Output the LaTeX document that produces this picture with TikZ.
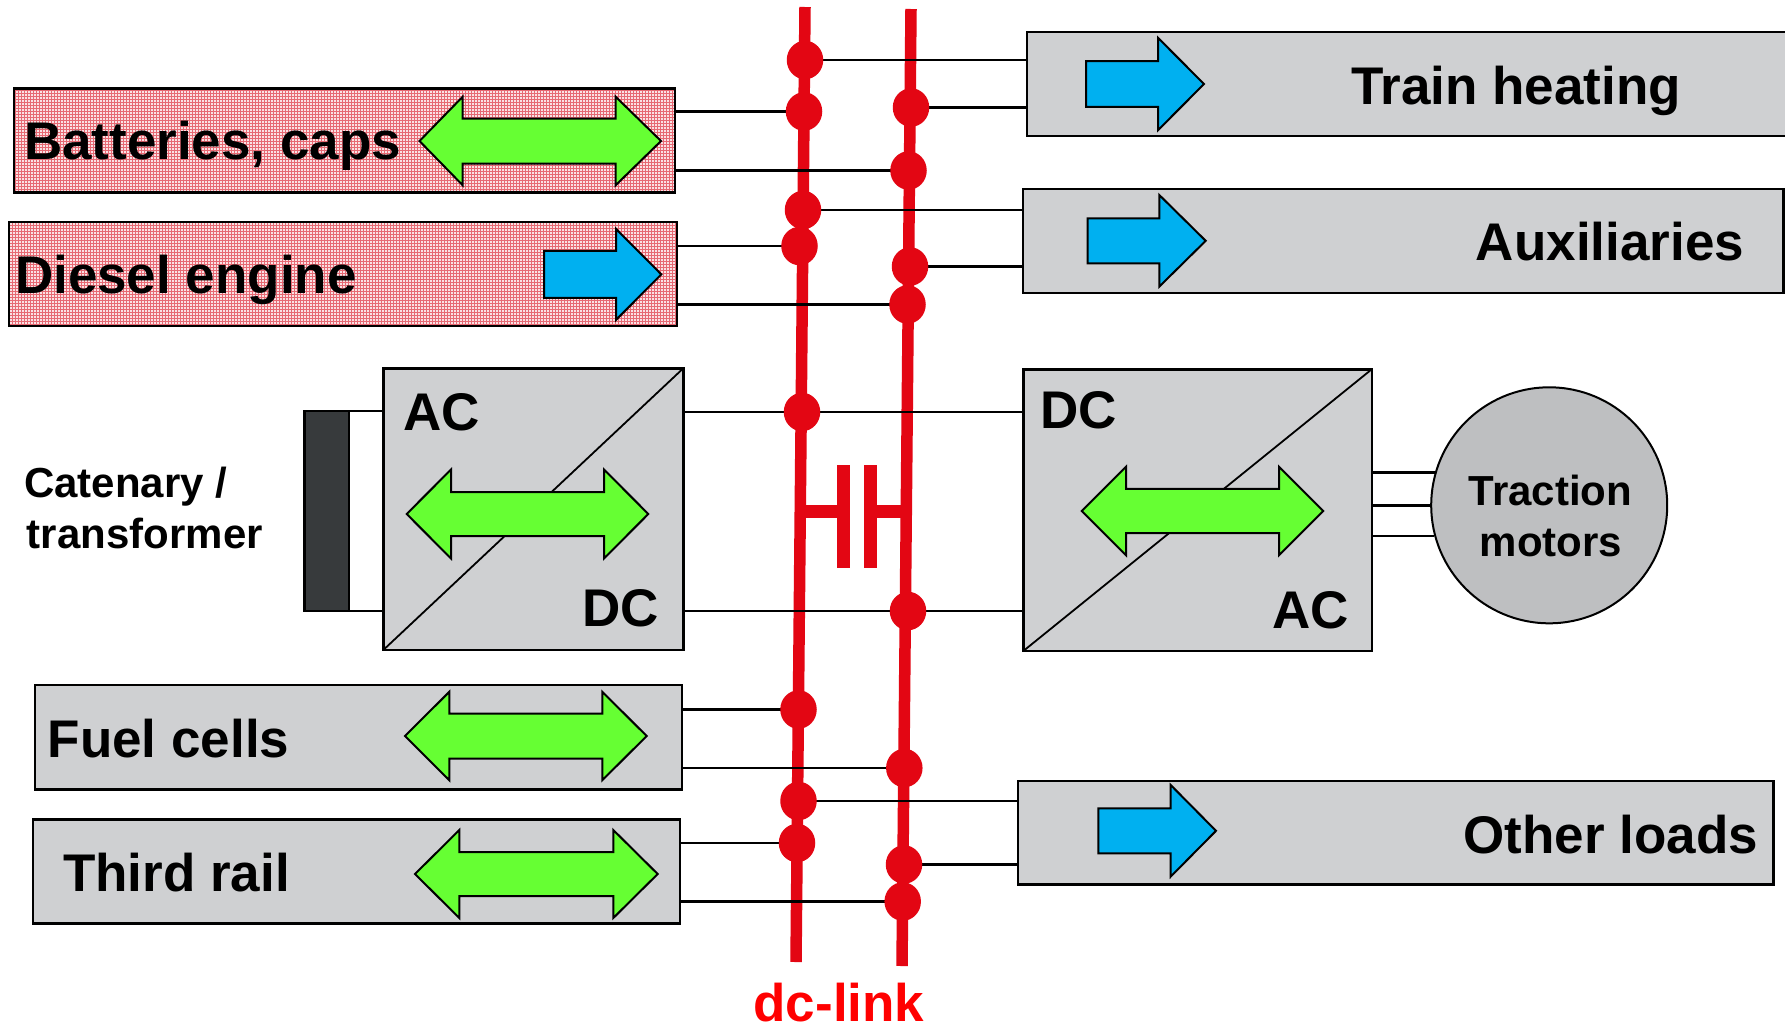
\documentclass[tikz,border=0pt]{standalone}
\usepackage{fontspec}
\setmainfont{Liberation Sans}
\usetikzlibrary{shapes.geometric,patterns}
\definecolor{boxgrey}{RGB}{207,208,210}
\definecolor{motorgrey}{RGB}{190,191,193}
\definecolor{railred}{RGB}{227,6,19}
\definecolor{textred}{RGB}{255,0,0}
\definecolor{arrgreen}{RGB}{102,255,51}
\definecolor{arrblue}{RGB}{0,176,240}
\definecolor{darkslab}{RGB}{55,58,60}
\definecolor{pinkbase}{RGB}{250,225,228}
\definecolor{pinkgrid}{RGB}{230,105,115}
\newcommand{\dblarr}[7]{%
  \draw[garr] (#1,#5) -- (#2,#5-#6) -- (#2,#5-#7) -- (#3,#5-#7) -- (#3,#5-#6) -- (#4,#5)
    -- (#3,#5+#6) -- (#3,#5+#7) -- (#2,#5+#7) -- (#2,#5+#6) -- cycle;}
\newcommand{\sglarr}[6]{%
  \draw[barr] (#1,#4-#6) -- (#2,#4-#6) -- (#2,#4-#5) -- (#3,#4) -- (#2,#4+#5) -- (#2,#4+#6)
    -- (#1,#4+#6) -- cycle;}
\begin{document}
\begin{tikzpicture}[x=1pt,y=-1pt,
  box/.style={draw=black, line width=2.4pt, fill=boxgrey, rectangle, inner sep=0pt, outer sep=0pt, anchor=north west},
  pinkbox/.style={box, fill=pinkbase, postaction={pattern=grid, pattern color=pinkgrid},
    postaction={draw=black, line width=2.4pt}},
  slab/.style={box, fill=darkslab},
  plate/.style={rectangle, fill=railred, inner sep=0pt, minimum width=12.7pt, minimum height=102.7pt},
  dot/.style={ellipse, fill=railred, inner sep=0pt, minimum width=36.5pt, minimum height=38.5pt},
  wire/.style={line width=2.4pt, black},
  rail/.style={line width=11.5pt, railred},
  capwire/.style={line width=12.7pt, railred},
  garr/.style={draw=black, line width=2pt, fill=arrgreen},
  barr/.style={draw=black, line width=2pt, fill=arrblue},
  lbl/.style={font=\fontsize{53}{60}\selectfont\bfseries, inner sep=0pt, outer sep=0pt},
  slbl/.style={font=\fontsize{42}{50}\selectfont\bfseries, inner sep=0pt, outer sep=0pt}]

\fill[white] (0,0) rectangle (1785,1026);
\useasboundingbox (0,0) rectangle (1785,1026);

% dc-link rails
\coordinate (LT) at (805,7);
\coordinate (LB) at (796,962);
\coordinate (RT) at (911,9);
\coordinate (RB) at (902,966);
\draw[rail] (LT) -- (LB);
\draw[rail] (RT) -- (RB);

% capacitor
\coordinate (cL) at (800.2,511.3);
\coordinate (cR) at (906.3,511.3);
\node[plate] (p1) at (843.7,516.7) {};
\node[plate] (p2) at (870.3,516.7) {};
\draw[capwire] (cL) -- (cL -| p1.center);
\draw[capwire] (cR -| p2.center) -- (cR);

% boxes
\node[pinkbox, minimum width=661.3pt, minimum height=104pt] (bat) at (13.7,88.3) {};
\node[pinkbox, minimum width=668pt, minimum height=104.3pt] (dsl) at (8.7,221.7) {};
\node[box, minimum width=780pt, minimum height=103.7pt] (heat) at (1026.7,32) {};
\node[box, minimum width=760.8pt, minimum height=103.7pt] (aux) at (1022.7,189) {};
\node[box, minimum width=300pt, minimum height=281.7pt] (acdc) at (383.3,368.3) {};
\node[box, minimum width=348.4pt, minimum height=281.7pt] (dcac) at (1023.3,369.3) {};
\node[box, minimum width=647pt, minimum height=104.3pt] (fuel) at (34.7,685) {};
\node[box, minimum width=647.3pt, minimum height=104pt] (third) at (32.7,819.3) {};
\node[box, minimum width=755.5pt, minimum height=103.3pt] (other) at (1018,781) {};
\node[slab, minimum width=44.7pt, minimum height=200.3pt] (cat) at (304.3,410.7) {};
\draw[line width=1.8pt] (acdc.north east) -- (acdc.south west);
\draw[line width=1.8pt] (dcac.north east) -- (dcac.south west);

% tap points
\coordinate (L1) at (805,60);
\coordinate (L2) at (804,111.5);
\coordinate (L3) at (803,210);
\coordinate (L4) at (799.5,246);
\coordinate (L5) at (802,412);
\coordinate (L6) at (798.5,709.5);
\coordinate (L7) at (798.5,801);
\coordinate (L8) at (797,843);
\coordinate (R1) at (911,107.5);
\coordinate (R2) at (908.5,170.5);
\coordinate (R3) at (910,266.5);
\coordinate (R4) at (907.5,304.5);
\coordinate (R5) at (908,611);
\coordinate (R6) at (904.3,768);
\coordinate (R7) at (904,864.5);
\coordinate (R8) at (902.7,901.5);

% wires
\draw[wire] (L1) -- (L1 -| heat.west);
\draw[wire] (R1) -- (R1 -| heat.west);
\draw[wire] (bat.east |- L2) -- (L2);
\draw[wire] (bat.east |- R2) -- (R2);
\draw[wire] (L3) -- (L3 -| aux.west);
\draw[wire] (R3) -- (R3 -| aux.west);
\draw[wire] (dsl.east |- L4) -- (L4);
\draw[wire] (dsl.east |- R4) -- (R4);
\draw[wire] (acdc.east |- L5) -- (L5 -| dcac.west);
\draw[wire] (acdc.east |- R5) -- (R5 -| dcac.west);
\draw[wire] (cat.north west) -- (cat.north west -| acdc.west);
\draw[wire] (cat.south west) -- (cat.south west -| acdc.west);
\draw[wire] (fuel.east |- L6) -- (L6);
\draw[wire] (fuel.east |- R6) -- (R6);
\draw[wire] (L7) -- (L7 -| other.west);
\draw[wire] (R7) -- (R7 -| other.west);
\draw[wire] (third.east |- L8) -- (L8);
\draw[wire] (third.east |- R8) -- (R8);

% dots
\foreach \d in {L1,L2,L3,L4,L5,L6,L7,L8,R1,R2,R3,R4,R5,R6,R7,R8}
  \node[dot] (d\d) at (\d) {};

% traction motors
\node[circle, draw=black, line width=2pt, fill=motorgrey, minimum size=236pt, inner sep=0pt] (motor) at (1549.2,505.3) {};
\draw[wire] (dcac.east |- motor.164.8) -- (motor.164.8);
\draw[wire] (dcac.east |- motor.west) -- (motor.west);
\draw[wire] (dcac.east |- motor.195.7) -- (motor.195.7);

% arrows
\dblarr{419.5}{462.6}{615.7}{661}{141}{44.2}{22.5}
\dblarr{406.7}{451}{604}{648.3}{514}{44.5}{22}
\dblarr{1081.7}{1126}{1279}{1323.3}{511}{44.2}{22.2}
\dblarr{405}{449.3}{602.3}{646.7}{736}{44.2}{22.5}
\dblarr{415}{459.3}{613.3}{657.7}{874}{44}{22}
\sglarr{1086}{1158}{1204}{84}{46.2}{22.8}
\sglarr{1087.7}{1159.3}{1205.7}{240.8}{45.8}{22.5}
\sglarr{544}{616}{661.3}{274.4}{45.5}{23.5}
\sglarr{1098.3}{1170.7}{1216}{830.8}{45.8}{22.5}

% labels
\node[lbl, anchor=base west] (tbat) at (24,159.3) {Batteries, caps};
\node[lbl, anchor=base west] (tdsl) at (15,293) {Diesel engine};
\node[lbl, anchor=base east] (theat) at (1681,104) {Train heating};
\node[lbl, anchor=base east] (taux) at (1744,260) {Auxiliaries};
\node[lbl, anchor=base west] (tac1) at (403,430.7) {AC};
\node[lbl, anchor=base east] (tdc1) at (659,626.7) {DC};
\node[lbl, anchor=base west] (tdc2) at (1040.4,428.3) {DC};
\node[lbl, anchor=base east] (tac2) at (1349,628.3) {AC};
\node[slbl, anchor=base] (ttr) at (1550.5,505) {Traction};
\node[slbl, anchor=base] (tmo) at (1551,556) {motors};
\node[slbl, anchor=base west] (tcat) at (24,497.5) {Catenary /};
\node[slbl, anchor=base west] (ttra) at (27,548.7) {transformer};
\node[lbl, anchor=base west] (tfuel) at (47.7,757.3) {Fuel cells};
\node[lbl, anchor=base west] (tthird) at (63,891) {Third rail};
\node[lbl, anchor=base east] (tother) at (1758,853.5) {Other loads};
\node[lbl, anchor=base west, text=textred] (tdc) at (753.5,1021) {dc-link};
\end{tikzpicture}
\end{document}
